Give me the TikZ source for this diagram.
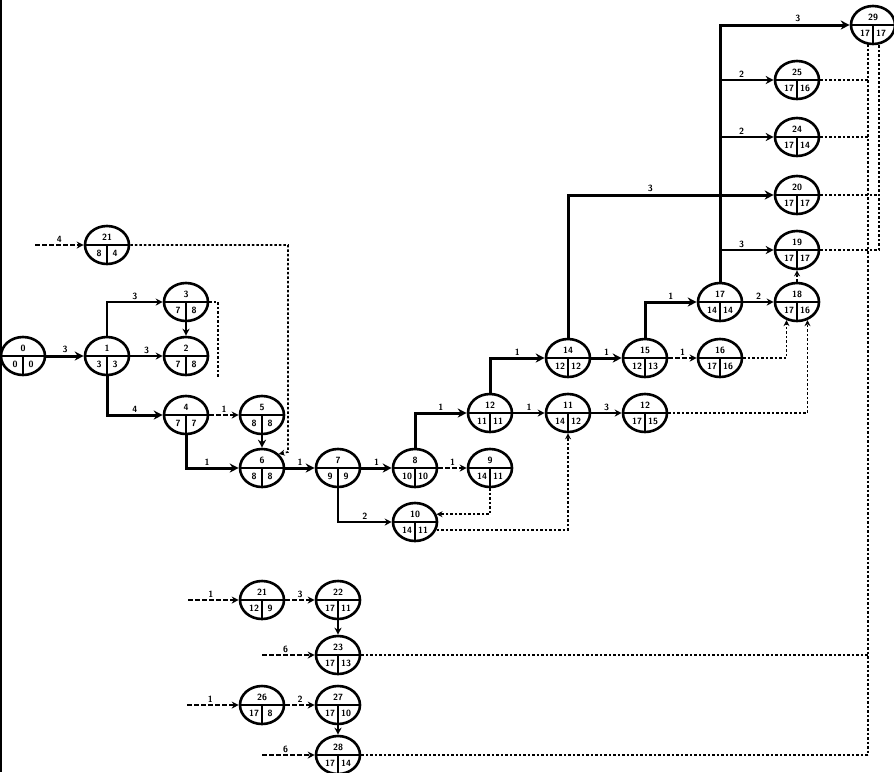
\documentclass[tikz,border=0pt]{standalone}
\usetikzlibrary{arrows.meta,calc,shapes.geometric}
\begin{document}
\begin{tikzpicture}[x=1pt,y=-1pt,
  ev/.style={ellipse, draw, line width=2.6pt, minimum width=44pt, minimum height=38pt, inner sep=0pt},
  evline/.style={line width=1.1pt},
  num/.style={font=\fontsize{9}{9}\selectfont\sffamily\bfseries, inner sep=0pt},
  lbl/.style={font=\fontsize{9}{9}\selectfont\sffamily\bfseries, inner sep=1.5pt, above},
  crit/.style={line width=3pt, -{Stealth[length=9pt,width=9pt]}},
  med/.style={line width=2pt, -{Stealth[length=8pt,width=8pt]}},
  act/.style={line width=1.4pt, -{Stealth[length=7pt,width=7pt]}},
  actd/.style={act, dash pattern=on 5pt off 2pt},
  dum/.style={line width=1.6pt, dash pattern=on 2.5pt off 2pt, -{Stealth[length=6pt,width=6pt]}},
  dumn/.style={line width=1.6pt, dash pattern=on 2.5pt off 2pt}]
\useasboundingbox (0,0) rectangle (894,772);
\newcommand\evt[6]{%
  \node[ev] (#1) at (#2,#3) {};
  \draw[evline] (#1.west) -- (#1.east) (#1.center) -- (#1.south);
  \node[num] (#1t) at ([yshift=8pt]#1.center) {#4};
  \node[num] (#1l) at ([xshift=-8pt,yshift=-8.5pt]#1.center) {#5};
  \node[num] (#1r) at ([xshift=8pt,yshift=-8.5pt]#1.center) {#6};
}
% left border
\draw[line width=2.5pt] (1,0) -- (1,772);
% events
\evt{n0}{23}{356}{0}{0}{0}
\evt{n1}{107}{356}{1}{3}{3}
\evt{n2}{186}{356}{2}{7}{8}
\evt{n3}{186}{302}{3}{7}{8}
\evt{na}{107}{245}{21}{8}{4}
\evt{n4}{186}{415}{4}{7}{7}
\evt{n5}{262}{415}{5}{8}{8}
\evt{n6}{262}{468}{6}{8}{8}
\evt{n7}{338}{468}{7}{9}{9}
\evt{n8}{415}{468}{8}{10}{10}
\evt{n9}{490}{468}{9}{14}{11}
\evt{n10}{415}{522}{10}{14}{11}
\evt{n12}{490}{413}{12}{11}{11}
\evt{n11}{568}{413}{11}{14}{12}
\evt{n13}{645}{413}{12}{17}{15}
\evt{n14}{568}{358}{14}{12}{12}
\evt{n15}{645}{358}{15}{12}{13}
\evt{n16}{720}{358}{16}{17}{16}
\evt{n17}{720}{302}{17}{14}{14}
\evt{n18}{797}{302}{18}{17}{16}
\evt{n19}{797}{250}{19}{17}{17}
\evt{n20}{797}{195}{20}{17}{17}
\evt{n24}{797}{137}{24}{17}{14}
\evt{n25}{797}{80}{25}{17}{16}
\evt{n29}{873}{25}{29}{17}{17}
\evt{nb}{262}{600}{21}{12}{9}
\evt{n22}{338}{600}{22}{17}{11}
\evt{n23}{338}{655}{23}{17}{13}
\evt{n26}{262}{705}{26}{17}{8}
\evt{n27}{338}{705}{27}{17}{10}
\evt{n28}{338}{755}{28}{17}{14}
% free ends
\coordinate (s21) at (35,245);
\coordinate (c3) at (218,378);
\coordinate (c21) at (288,452);
\coordinate (b25) at (720,80);
\coordinate (b24) at (720,137);
\coordinate (b19) at (720,250);
\coordinate (top1) at (868,44);
\coordinate (bot1) at (868,755);
\coordinate (top2) at (879,43);
\coordinate (sb) at (188,600);
\coordinate (s23) at (262,655);
\coordinate (s26) at (187,705);
\coordinate (s28) at (262,755);
% connectors
\draw[crit] (n0) -- node[lbl] (l01) {3} (n1);
\draw[act] (n1) -- node[lbl] (l12) {3} (n2);
\draw[act] (n1.north) |- node[lbl,pos=0.75] (l13) {3} (n3);
\draw[act] (n3) -- (n2);
\draw[dumn] (n3.east) -| (c3);
\draw[actd] (s21) -- node[lbl] (l21) {4} (na);
\draw[dum] (na.east) -| (c21) -- (n6.40);
\draw[crit] (n1.south) |- node[lbl,pos=0.75] (l14) {4} (n4);
\draw[actd] (n4) -- node[lbl] (l45) {1} (n5);
\draw[med] (n5) -- (n6);
\draw[crit] (n4.south) |- node[lbl,pos=0.7] (l46) {1} (n6);
\draw[crit] (n6) -- node[lbl] (l67) {1} (n7);
\draw[crit] (n7) -- node[lbl] (l78) {1} (n8);
\draw[actd] (n8) -- node[lbl] (l89) {1} (n9);
\draw[crit] (n8.north) |- node[lbl,pos=0.75] (l812) {1} (n12);
\draw[act] (n7.south) |- node[lbl,pos=0.75] (l710) {2} (n10);
\draw[dum] (n9.south) |- (n10.20);
\draw[dum] (n10.-20) -| (n11.south);
\draw[act] (n12) -- node[lbl] (l1211) {1} (n11);
\draw[act] (n11) -- node[lbl] (l1113) {3} (n13);
\draw[dum] (n13.east) -| (n18.-60);
\draw[crit] (n12.north) |- node[lbl,pos=0.75] (l1214) {1} (n14);
\draw[crit] (n14) -- node[lbl] (l1415) {1} (n15);
\draw[actd] (n15) -- node[lbl] (l1516) {1} (n16);
\draw[dum] (n16.east) -| (n18.-120);
\draw[crit] (n15.north) |- node[lbl,pos=0.75] (l1517) {1} (n17);
\draw[act] (n17) -- node[lbl] (l1718) {2} (n18);
\draw[dum] (n18) -- (n19);
\draw[crit] (n14.north) |- node[lbl,pos=0.7] (l1420) {3} (n20);
\draw[crit] (n17.north) |- node[lbl,pos=0.8] (l1729) {3} (n29);
\draw[med] (b25) -- node[lbl,pos=0.4] (l25) {2} (n25);
\draw[med] (b24) -- node[lbl,pos=0.4] (l24) {2} (n24);
\draw[med] (b19) -- node[lbl,pos=0.4] (l19) {3} (n19);
% collectors on the right
\draw[dumn] (top1) -- (bot1);
\draw[dumn] (n25.east) -- (n25.east -| top1);
\draw[dumn] (n24.east) -- (n24.east -| top1);
\draw[dumn] (n23.east) -- (n23.east -| top1);
\draw[dumn] (n28.east) -- (n28.east -| top1);
\draw[dumn, line width=2.2pt] (n19.east) -| (top2);
\draw[dumn, line width=2.2pt] (n20.east) -- (n20.east -| top2);
% bottom groups
\draw[actd] (sb) -- node[lbl,pos=0.45] (lb1) {1} (nb);
\draw[actd] (nb) -- node[lbl] (lb22) {3} (n22);
\draw[act] (n22) -- (n23);
\draw[actd] (s23) -- node[lbl,pos=0.45] (l623) {6} (n23);
\draw[actd] (s26) -- node[lbl,pos=0.45] (l26) {1} (n26);
\draw[actd] (n26) -- node[lbl] (l2627) {2} (n27);
\draw[act] (n27) -- (n28);
\draw[actd] (s28) -- node[lbl,pos=0.45] (l628) {6} (n28);
\end{tikzpicture}
\end{document}
